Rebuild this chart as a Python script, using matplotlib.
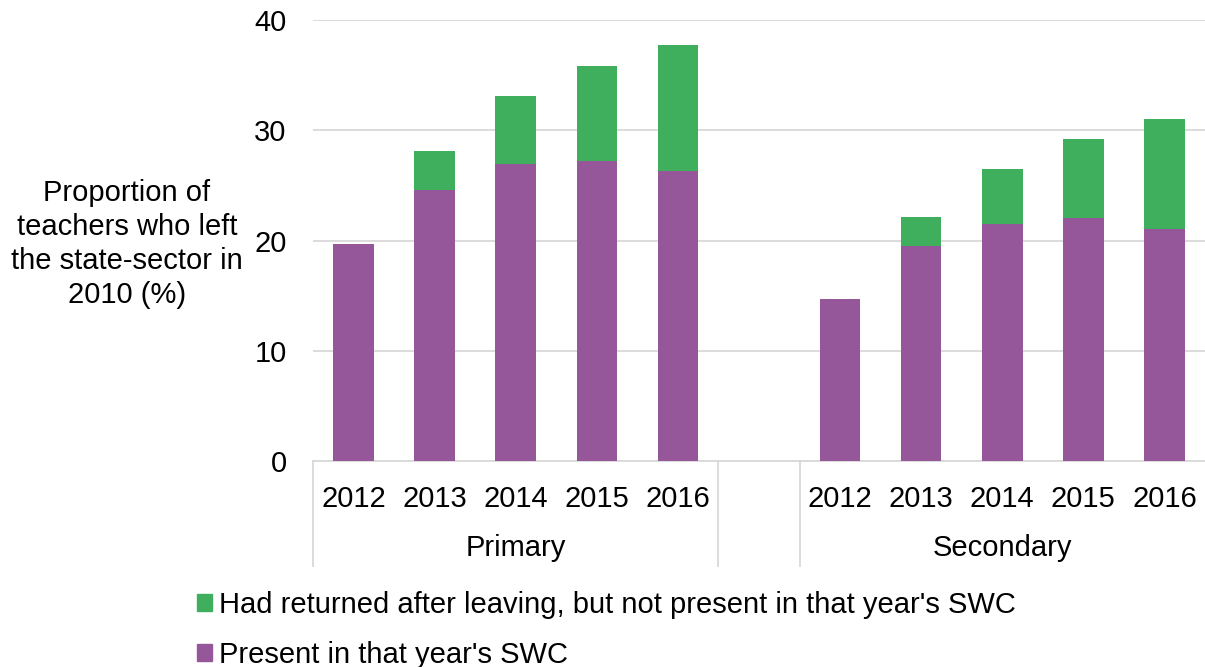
import matplotlib
matplotlib.use('Agg')
import matplotlib.pyplot as plt
from matplotlib.patches import Patch
import matplotlib.transforms as mtransforms

plt.rcParams['font.family'] = ['Liberation Sans', 'DejaVu Sans']

# 数据
years = ['2012', '2013', '2014', '2015', '2016']
groups = ['Primary', 'Secondary']
primary_present = [19.7, 24.6, 26.9, 27.2, 26.3]
primary_returned = [0.0, 3.5, 6.2, 8.65, 11.4]
secondary_present = [14.7, 19.5, 21.5, 22.0, 21.0]
secondary_returned = [0.0, 2.6, 5.0, 7.2, 10.0]

purple = '#955799'
green = '#3faf5d'
grid_c = '#d9d9d9'
fs = 21

fig = plt.figure(figsize=(12.05, 6.67), dpi=100)
ax = fig.add_axes([313 / 1205, 1 - 461 / 667, 892 / 1205, 441 / 667])

# 两组之间留一个空位
x_prim = list(range(0, 5))
x_sec = list(range(6, 11))

ax.bar(x_prim, primary_present, width=0.5, color=purple, zorder=3)
ax.bar(x_prim, primary_returned, width=0.5, bottom=primary_present, color=green, zorder=3)
ax.bar(x_sec, secondary_present, width=0.5, color=purple, zorder=3)
ax.bar(x_sec, secondary_returned, width=0.5, bottom=secondary_present, color=green, zorder=3)

ax.set_xlim(-0.5, 10.5)
ax.set_ylim(0, 40)
ax.set_yticks([0, 10, 20, 30, 40])
ax.yaxis.grid(True, color=grid_c, linewidth=1.3, zorder=0)
ax.tick_params(axis='y', length=0, pad=19, labelsize=fs)
ax.set_xticks(x_prim + x_sec)
ax.set_xticklabels(years + years)
ax.tick_params(axis='x', length=0, pad=17, labelsize=fs)

for side in ['top', 'right', 'left']:
    ax.spines[side].set_visible(False)
ax.spines['bottom'].set_color(grid_c)
ax.spines['bottom'].set_linewidth(1.3)

# 分组分隔线和组名
trans = mtransforms.blended_transform_factory(ax.transData, ax.transAxes)
for xs in [-0.5, 4.5, 5.5]:
    ax.plot([xs, xs], [0, -0.237], transform=trans, color=grid_c,
            linewidth=1.3, clip_on=False)
ax.text(2, -0.197, groups[0], transform=trans, ha='center', va='center', fontsize=fs)
ax.text(8, -0.197, groups[1], transform=trans, ha='center', va='center', fontsize=fs)

fig.text(127 / 1205, 1 - 244 / 667,
         'Proportion of\nteachers who left\nthe state-sector in\n2010 (%)',
         ha='center', va='center', fontsize=fs, linespacing=1.26)

handles = [Patch(color=green, label="Had returned after leaving, but not present in that year's SWC"),
           Patch(color=purple, label="Present in that year's SWC")]
fig.legend(handles=handles, loc='upper left', bbox_to_anchor=(197 / 1205, 1 - 591 / 667),
           frameon=False, fontsize=fs, handlelength=0.5, handleheight=0.5,
           handletextpad=0.25, labelspacing=0.75, borderpad=0, borderaxespad=0)

fig.savefig('out.png', dpi=100)
